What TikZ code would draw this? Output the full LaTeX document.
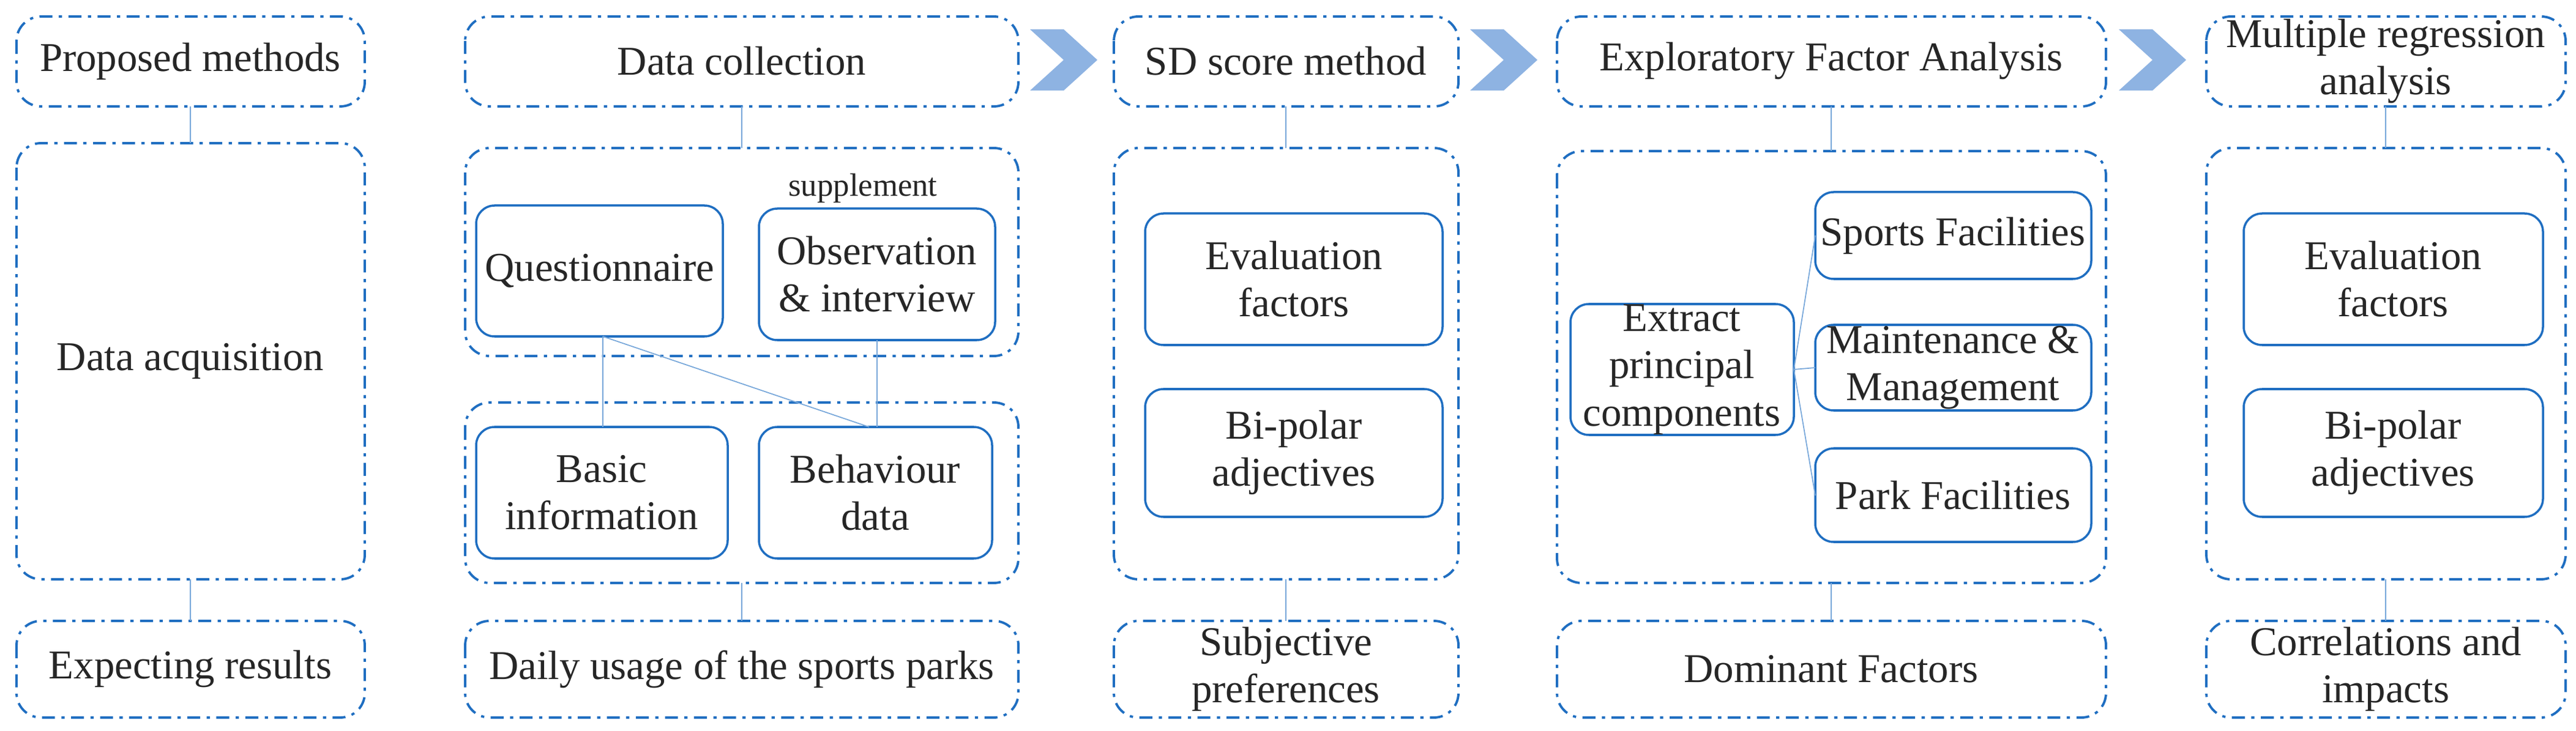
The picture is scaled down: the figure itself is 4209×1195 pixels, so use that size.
\documentclass[tikz,border=0pt]{standalone}
\usepackage{fontspec}
\setmainfont{Liberation Serif}
\begin{document}
\begin{tikzpicture}[x=0.01cm,y=-0.01cm,
  dd/.style={draw=myblue,line width=1.1pt,dash pattern=on 6pt off 3pt on 1.5pt off 3pt,rounded corners=0.4cm},
  sb/.style={draw=myblue,line width=1pt,rounded corners=0.3cm},
  cn/.style={draw=myblue!60,line width=0.5pt},
  tx/.style={font=\fontsize{19}{22}\selectfont,align=center,text=black!85},
  chev/.style={fill=chevblue,draw=chevblue!80!white}]
\definecolor{myblue}{HTML}{1F6EC1}
\definecolor{chevblue}{HTML}{8EB3E2}
\useasboundingbox (0,0) rectangle (4209,1195);
% column 1
\draw[dd] (27,27) rectangle (596,174); \node[tx] (c1t) at (311,100) {Proposed methods};
\draw[dd] (27,234) rectangle (596,947); \node[tx] (c1m) at (311,590) {Data acquisition};
\draw[dd] (27,1015) rectangle (596,1173); \node[tx] (c1b) at (311,1094) {Expecting results};
\coordinate (a1) at (311,174); \coordinate (a2) at (311,234);
\coordinate (a3) at (311,947); \coordinate (a4) at (311,1015);
\draw[cn] (a1)--(a2); \draw[cn] (a3)--(a4);
% column 2
\draw[dd] (760,27) rectangle (1664,174); \node[tx] at (1212,100) {Data collection};
\draw[dd] (760,242) rectangle (1664,582);
\draw[dd] (760,658) rectangle (1664,953);
\draw[dd] (760,1015) rectangle (1664,1173); \node[tx] at (1212,1094) {Daily usage of the sports parks};
\coordinate (b1) at (1212,174); \coordinate (b2) at (1212,242);
\coordinate (b3) at (1212,953); \coordinate (b4) at (1212,1015);
\draw[cn] (b1)--(b2); \draw[cn] (b3)--(b4);
\draw[sb] (778,336) rectangle (1181,550); \node[tx] (q) at (980,443) {Questionnaire};
\draw[sb] (1240,341) rectangle (1626,556); \node[tx] (o) at (1433,448) {Observation\\\& interview};
\node[tx,font=\fontsize{15}{17}\selectfont] (sup) at (1410,308) {supplement};
\draw[sb] (778,698) rectangle (1189,913); \node[tx] (bi) at (983,805) {Basic\\information};
\draw[sb] (1240,698) rectangle (1621,913); \node[tx] (be) at (1430,805) {Behaviour\\data};
\coordinate (qs) at (985,550); \coordinate (os) at (1433,556);
\coordinate (bin) at (985,698); \coordinate (ben) at (1420,698);
\draw[cn] (qs)--(bin); \draw[cn] (qs)--(ben); \draw[cn] (os)--(1433,698);
% chevrons
\foreach \x in {1683,2402,3462}{
 \fill[chevblue] (\x,48) -- (\x+55,48) -- (\x+110,98) -- (\x+55,148) -- (\x,148) -- (\x+55,98) -- cycle;}
% column 3
\draw[dd] (1820,27) rectangle (2383,174); \node[tx] at (2101,100) {SD score method};
\draw[dd] (1820,242) rectangle (2383,947);
\draw[dd] (1820,1015) rectangle (2383,1173); \node[tx] at (2101,1094) {Subjective\\preferences};
\draw[cn] (2101,174)--(2101,242); \draw[cn] (2101,947)--(2101,1015);
\draw[sb] (1871,349) rectangle (2357,564); \node[tx] at (2114,456) {Evaluation\\factors};
\draw[sb] (1871,636) rectangle (2357,845); \node[tx] at (2114,740) {Bi-polar\\adjectives};
% column 4
\draw[dd] (2544,27) rectangle (3441,174); \node[tx] at (2992,100) {Exploratory Factor Analysis};
\draw[dd] (2544,247) rectangle (3441,953);
\draw[dd] (2544,1015) rectangle (3441,1173); \node[tx] at (2992,1094) {Dominant Factors};
\draw[cn] (2992,174)--(2992,247); \draw[cn] (2992,953)--(2992,1015);
\draw[sb] (2566,497) rectangle (2931,711); \node[tx] at (2748,604) {Extract\\principal\\components};
\draw[sb] (2966,314) rectangle (3417,456); \node[tx] at (3191,385) {Sports Facilities};
\draw[sb] (2966,531) rectangle (3417,671); \node[tx] at (3191,601) {Maintenance \&\\Management};
\draw[sb] (2966,733) rectangle (3417,886); \node[tx] at (3191,810) {Park Facilities};
\draw[cn] (2931,604)--(2966,385); \draw[cn] (2931,604)--(2966,601); \draw[cn] (2931,604)--(2966,810);
% column 5
\draw[dd] (3605,27) rectangle (4192,174); \node[tx] at (3898,100) {Multiple regression\\analysis};
\draw[dd] (3605,242) rectangle (4192,947);
\draw[dd] (3605,1015) rectangle (4192,1173); \node[tx] at (3898,1094) {Correlations and\\impacts};
\draw[cn] (3898,174)--(3898,242); \draw[cn] (3898,947)--(3898,1015);
\draw[sb] (3666,349) rectangle (4155,564); \node[tx] at (3910,456) {Evaluation\\factors};
\draw[sb] (3666,636) rectangle (4155,845); \node[tx] at (3910,740) {Bi-polar\\adjectives};
\end{tikzpicture}
\end{document}
